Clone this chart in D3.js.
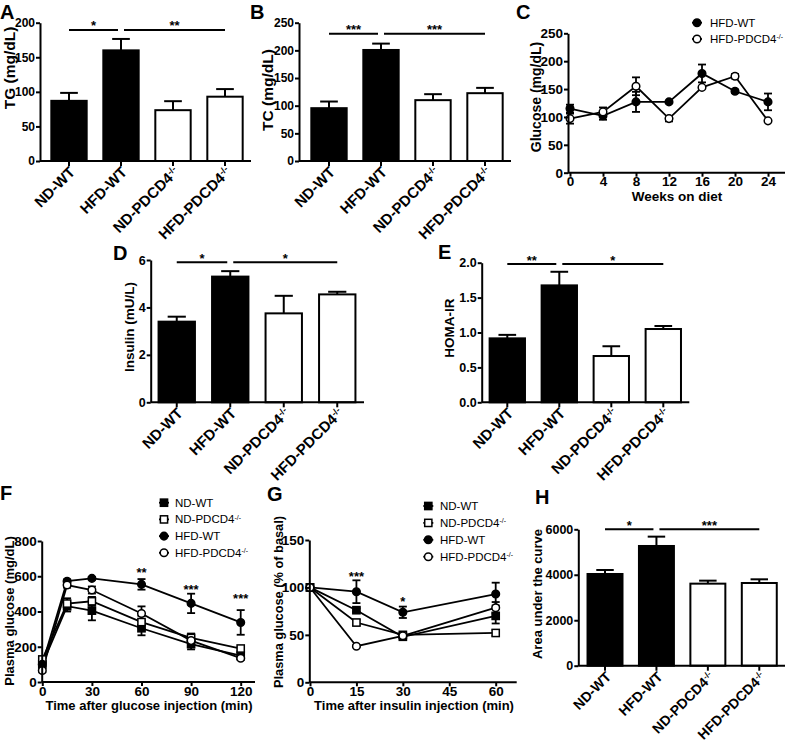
<!DOCTYPE html>
<html><head><meta charset="utf-8">
<script src="https://cdn.jsdelivr.net/npm/d3@7"></script>
<style>
body{margin:0;background:#fff;}
text{font-family:"Liberation Sans",Arial,Helvetica,sans-serif;fill:#000;}
</style></head><body>
<svg id="fig" width="786" height="742"></svg>
<script>
// ---------- data ----------
const catLabels = ["ND-WT","HFD-WT","ND-PDCD4","HFD-PDCD4"];
const catSup = ["","","-/-","-/-"];
const catFill = ["#000","#000","#fff","#fff"];

const tgMean=[87,160,73.5,93], tgErr=[11.5,16.5,13,11];
const tcMean=[95.5,200.7,110,122.6], tcErr=[12,11.5,10.8,9.6];
const insMean=[3.40,5.30,3.75,4.55], insErr=[0.21,0.23,0.74,0.11];
const homaMean=[0.916,1.675,0.663,1.05], homaErr=[0.05,0.195,0.14,0.043];
const aucMean=[4034,5266,3609,3638], aucErr=[176,411,132,162];
const sigA=["*","**"], sigB=["***","***"], sigD=["*","*"], sigE=["**","*"], sigH=["*","***"];

const weeks=[0,4,8,12,16,20,24];
const cWT=[115,102,127,127,178,146,127], cWTerr=[7,7,18,2,16,3,15];
const cKO=[97,109,155,97,153,173,93], cKOerr=[9,8,16,5,2,4,2];

const gttTime=[0,15,30,60,90,120];
const gttNDWT=[100,430,405,305,215,150], gttNDWTerr=[15,30,55,40,30,15];
const gttNDKO=[128,445,458,340,250,190], gttNDKOerr=[10,30,25,35,25,10];
const gttHFDWT=[100,572,588,554,446,338], gttHFDWTerr=[10,10,8,30,55,70];
const gttHFDKO=[65,550,522,389,235,135], gttHFDKOerr=[10,15,20,40,20,10];
const gttStars=[{t:60,v:635,label:"**"},{t:90,v:539,label:"***"},{t:120,v:488,label:"***"}];

const ittTime=[0,15,30,60];
const ittNDWT=[100,76,48,70], ittNDWTerr=[0,2,2,8];
const ittNDKO=[100,63,50,52], ittNDKOerr=[0,3,2,3];
const ittHFDWT=[100,95.5,73.8,93], ittHFDWTerr=[0,12,6,12];
const ittHFDKO=[100,38,49,78.6], ittHFDKOerr=[0,1,2,6];
const ittStars=[{t:15,v:114,label:"***"},{t:30,v:88,label:"*"}];

// ---------- helpers ----------
const svg=d3.select("#fig");
function styleAxis(g,fs){
  g.selectAll(".domain").attr("stroke","#000").attr("stroke-width",2);
  g.selectAll(".tick line").attr("stroke","#000").attr("stroke-width",2);
  g.selectAll(".tick text").attr("font-weight","bold").attr("font-size",fs).attr("fill","#000")
    .attr("font-family",'"Liberation Sans",Arial,sans-serif');
}
function panelLabel(t,x,y){
  svg.append("text").attr("x",x).attr("y",y).attr("font-weight","bold").attr("font-size",20).text(t);
}
function yTitle(t,cx,cy,fs){
  svg.append("text").attr("transform",`translate(${cx},${cy}) rotate(-90)`)
    .attr("text-anchor","middle").attr("dy","0.36em").attr("font-weight","bold").attr("font-size",fs).text(t);
}
function xTitle(t,cx,by,fs){
  svg.append("text").attr("x",cx).attr("y",by).attr("text-anchor","middle")
    .attr("font-weight","bold").attr("font-size",fs).text(t);
}
function addName(sel,name,sup){
  sel.append("tspan").text(name);
  if(sup) sel.append("tspan").attr("dy","-0.55em").attr("font-size","0.6em").text(sup);
}

function barPanel(c){
  const y=d3.scaleLinear().domain([0,c.ymax]).range([c.y0,c.y1]);
  const x=d3.scaleBand().domain(catLabels).range([c.r0,c.r1]).paddingInner(0.32).paddingOuter(0.16);
  const bw=x.bandwidth(), cx=i=>x(catLabels[i])+bw/2;
  const g=svg.append("g");
  g.selectAll("line.eb").data(c.mean).join("line").attr("class","eb")
    .attr("x1",(d,i)=>cx(i)).attr("x2",(d,i)=>cx(i))
    .attr("y1",d=>y(d)).attr("y2",(d,i)=>y(d+c.err[i])).attr("stroke","#000").attr("stroke-width",2);
  g.selectAll("line.cap").data(c.mean).join("line").attr("class","cap")
    .attr("x1",(d,i)=>cx(i)-bw/4).attr("x2",(d,i)=>cx(i)+bw/4)
    .attr("y1",(d,i)=>y(d+c.err[i])).attr("y2",(d,i)=>y(d+c.err[i])).attr("stroke","#000").attr("stroke-width",2);
  g.selectAll("rect").data(c.mean).join("rect")
    .attr("x",(d,i)=>x(catLabels[i])).attr("width",bw)
    .attr("y",d=>y(d)).attr("height",d=>y(0)-y(d))
    .attr("fill",(d,i)=>catFill[i]).attr("stroke","#000").attr("stroke-width",2);
  const ya=svg.append("g").attr("transform",`translate(${c.ax},0)`)
    .call(d3.axisLeft(y).tickValues(c.ticks).tickFormat(c.fmt||d3.format("d")).tickSize(4).tickSizeOuter(0).tickPadding(1));
  styleAxis(ya,c.tfs);
  const xa=svg.append("g").attr("transform",`translate(0,${c.y0})`)
    .call(d3.axisBottom(x).tickSize(5).tickSizeOuter(0));
  styleAxis(xa,c.tfs);
  xa.select(".domain").attr("d",`M${c.ax},0H${c.r1}`);
  xa.selectAll(".tick text").remove();
  xa.selectAll(".tick").append("text")
    .attr("transform",`translate(7,12) rotate(-45)`)
    .attr("text-anchor","end").attr("font-weight","bold").attr("font-size",c.cfs)
    .each(function(d,i){addName(d3.select(this),catLabels[i],catSup[i]);});
  const yl=y(c.sigVal);
  const segs=[[cx(0),cx(1)-3],[cx(1)+3,cx(3)]];
  segs.forEach((s,k)=>{
    svg.append("line").attr("x1",s[0]).attr("x2",s[1]).attr("y1",yl).attr("y2",yl).attr("stroke","#000").attr("stroke-width",2);
    svg.append("text").attr("x",(s[0]+s[1])/2).attr("y",yl+0.5).attr("text-anchor","middle")
      .attr("font-weight","bold").attr("font-size",13).text(c.sig[k]);
  });
}

function marker(g,type,px,py){
  const filled=type.endsWith("f");
  if(type[0]==="c"){
    g.append("circle").attr("cx",px).attr("cy",py).attr("r",3.8)
      .attr("fill",filled?"#000":"#fff").attr("stroke","#000").attr("stroke-width",1.5);
  } else {
    g.append("rect").attr("x",px-3.6).attr("y",py-3.6).attr("width",7.2).attr("height",7.2)
      .attr("fill",filled?"#000":"#fff").attr("stroke","#000").attr("stroke-width",1.5);
  }
}

function linePanel(c){
  const x=d3.scaleLinear().domain([0,c.xmax]).range([c.xr0,c.xr1]);
  const y=d3.scaleLinear().domain([0,c.ymax]).range([c.y0,c.y1]);
  const g=svg.append("g");
  const ln=d3.line().x((d,i)=>x(c.t[i])).y(d=>y(d));
  c.series.forEach(s=>{
    g.append("path").attr("d",ln(s.v)).attr("fill","none").attr("stroke","#000").attr("stroke-width",1.8);
  });
  c.series.forEach(s=>{
    s.v.forEach((v,i)=>{
      const e=s.e[i]; if(!e) return;
      const px=x(c.t[i]);
      g.append("line").attr("x1",px).attr("x2",px).attr("y1",y(v-e)).attr("y2",y(v+e)).attr("stroke","#000").attr("stroke-width",1.8);
      [v-e,v+e].forEach(w=>g.append("line").attr("x1",px-4).attr("x2",px+4).attr("y1",y(w)).attr("y2",y(w)).attr("stroke","#000").attr("stroke-width",1.8));
    });
  });
  c.series.forEach(s=>s.v.forEach((v,i)=>marker(g,s.m,x(c.t[i]),y(v))));
  const ya=svg.append("g").attr("transform",`translate(${c.ax},0)`)
    .call(d3.axisLeft(y).tickValues(c.yticks).tickFormat(d3.format("d")).tickSize(4).tickSizeOuter(0).tickPadding(1));
  styleAxis(ya,c.tfs);
  const xa=svg.append("g").attr("transform",`translate(0,${c.y0})`)
    .call(d3.axisBottom(x).tickValues(c.xticks).tickFormat(d3.format("d")).tickSize(4).tickSizeOuter(0).tickPadding(0));
  styleAxis(xa,c.tfs);
  xa.select(".domain").attr("d",`M${c.ax},0H${c.xend}`);
  c.series.forEach((s,k)=>{
    const ly=c.leg.y+k*c.leg.dy;
    svg.append("line").attr("x1",c.leg.x-5).attr("x2",c.leg.x+5).attr("y1",ly).attr("y2",ly).attr("stroke","#000").attr("stroke-width",1.8);
    marker(svg,s.m,c.leg.x,ly);
    const t=svg.append("text").attr("x",c.leg.tx).attr("y",ly+4).attr("font-size",c.leg.fs);
    addName(t,s.name,s.sup);
  });
  (c.stars||[]).forEach(st=>{
    svg.append("text").attr("x",x(st.t)).attr("y",y(st.v)+7).attr("text-anchor","middle")
      .attr("font-weight","bold").attr("font-size",13).text(st.label);
  });
}

// ---------- panels ----------
barPanel({ymax:200,y0:161,y1:22.7,r0:43,r1:251,ax:40,ticks:[0,50,100,150,200],tfs:12,cfs:15,
  mean:tgMean,err:tgErr,sig:sigA,sigVal:189.5});
panelLabel("A",0,18.5); yTitle("TG (mg/dL)",9,68,15.5);

barPanel({ymax:250,y0:161,y1:22.7,r0:303,r1:511,ax:299,ticks:[0,50,100,150,200,250],tfs:12,cfs:15,
  mean:tcMean,err:tcErr,sig:sigB,sigVal:230});
panelLabel("B",250,18.5); yTitle("TC (mg/dL)",267,90,15.5);

barPanel({ymax:6,y0:402.3,y1:260,r0:150,r1:364,ax:150.7,ticks:[0,2,4,6],tfs:12.5,cfs:15,
  mean:insMean,err:insErr,sig:sigD,sigVal:5.9});
panelLabel("D",113,260); yTitle("Insulin (mU/L)",129.5,327,13.5);

barPanel({ymax:2,y0:402.3,y1:262.7,r0:481.3,r1:689.3,ax:481.7,ticks:[0,0.5,1,1.5,2],fmt:d3.format(".1f"),tfs:12.5,cfs:15,
  mean:homaMean,err:homaErr,sig:sigE,sigVal:1.98});
panelLabel("E",438,259); yTitle("HOMA-IR",449,328,13.5);

barPanel({ymax:6000,y0:665.7,y1:529.3,r0:579.3,r1:785,ax:578.3,ticks:[0,2000,4000,6000],tfs:12.5,cfs:14,
  mean:aucMean,err:aucErr,sig:sigH,sigVal:6000});
panelLabel("H",535,504); yTitle("Area under the curve",537.5,594,13);

linePanel({t:weeks,xmax:24,xr0:570,xr1:768,ymax:250,y0:172.7,y1:33.3,ax:568,xend:785,
  yticks:[0,50,100,150,200,250],xticks:weeks,tfs:13.5,
  series:[{name:"HFD-WT",sup:"",m:"cf",v:cWT,e:cWTerr},{name:"HFD-PDCD4",sup:"-/-",m:"co",v:cKO,e:cKOerr}],
  leg:{x:697,tx:710,y:22.7,dy:16.3,fs:11.5}});
panelLabel("C",516,18.5); yTitle("Glucose (mg/dL)",536,97,14); xTitle("Weeks on diet",677,201,13.5);

linePanel({t:gttTime,xmax:120,xr0:42.3,xr1:240.7,ymax:800,y0:682,y1:541,ax:41.7,xend:255,
  yticks:[0,200,400,600,800],xticks:[0,30,60,90,120],tfs:13.5,
  series:[{name:"ND-WT",sup:"",m:"sf",v:gttNDWT,e:gttNDWTerr},{name:"ND-PDCD4",sup:"-/-",m:"so",v:gttNDKO,e:gttNDKOerr},
          {name:"HFD-WT",sup:"",m:"cf",v:gttHFDWT,e:gttHFDWTerr},{name:"HFD-PDCD4",sup:"-/-",m:"co",v:gttHFDKO,e:gttHFDKOerr}],
  leg:{x:164,tx:175,y:502.7,dy:16.7,fs:11.5},stars:gttStars});
panelLabel("F",0,500); yTitle("Plasma glucose (mg/dL)",9,611,13); xTitle("Time after glucose injection (min)",149,710,13);

linePanel({t:ittTime,xmax:60,xr0:310,xr1:495.7,ymax:150,y0:682.3,y1:540,ax:309.3,xend:516.7,
  yticks:[0,50,100,150],xticks:[0,15,30,45,60],tfs:13.5,
  series:[{name:"ND-WT",sup:"",m:"sf",v:ittNDWT,e:ittNDWTerr},{name:"ND-PDCD4",sup:"-/-",m:"so",v:ittNDKO,e:ittNDKOerr},
          {name:"HFD-WT",sup:"",m:"cf",v:ittHFDWT,e:ittHFDWTerr},{name:"HFD-PDCD4",sup:"-/-",m:"co",v:ittHFDKO,e:ittHFDKOerr}],
  leg:{x:428.3,tx:440,y:506,dy:16.9,fs:11.5},stars:ittStars});
panelLabel("G",267,501); yTitle("Plasma glucose (% of basal)",278,602,12.8); xTitle("Time after insulin injection (min)",414,710,13);
</script>
</body></html>
